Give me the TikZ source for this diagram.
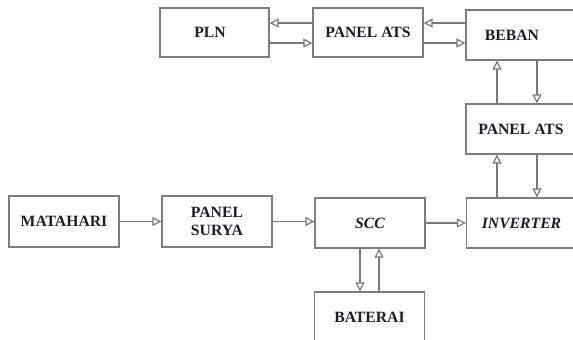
\documentclass[tikz,border=0pt]{standalone}
\usepackage{fontspec}
\setmainfont{Liberation Serif}
\usetikzlibrary{arrows.meta}
\definecolor{boxgray}{RGB}{125,125,125}
\definecolor{linegray}{RGB}{120,120,120}
\definecolor{txt}{RGB}{28,28,45}
\begin{document}
\begin{tikzpicture}[x=1pt,y=-1pt,
  box/.style={draw=boxgray, line width=1.3pt, minimum width=110pt, minimum height=50pt,
    inner sep=0pt, align=center, text=txt, font=\fontsize{15.7}{18}\selectfont\bfseries},
  arr/.style={draw=linegray, line width=1.2pt, -{Triangle[open, length=9pt, width=9pt]}}]
\useasboundingbox[fill=white] (0,0) rectangle (573,340);
\node[box, minimum width=109pt, minimum height=49pt] (pln) at (214.5,32.5) {\hspace*{-9pt}PLN};
\node[box, minimum height=49pt] (ats1) at (368,32.5) {PANEL ATS};
\node[box] (beban) at (521,35) {\hspace*{-18pt}BEBAN};
\node[box] (ats2) at (521,129) {PANEL ATS};
\node[box] (inv) at (521.5,223) {\itshape INVERTER};
\node[box, minimum height=51pt] (mat) at (64,221.5) {MATAHARI};
\node[box, minimum height=51pt] (sur) at (217,221.5) {PANEL\\SURYA};
\node[box] (scc) at (370,223) {\itshape SCC};
\node[box] (bat) at (369.5,317) {BATERAI};
% top row
\draw[arr] ([yshift=9.5pt]ats1.west) -- ([yshift=9.5pt]ats1.west -| pln.east);
\draw[arr] ([yshift=-10.5pt]pln.east) -- ([yshift=-10.5pt]pln.east -| ats1.west);
\draw[arr] ([yshift=9.5pt]ats1.east -| beban.west) -- ([yshift=9.5pt]ats1.east);
\draw[arr] ([yshift=-10.5pt]ats1.east) -- ([yshift=-10.5pt]ats1.east -| beban.west);
% right column
\draw[arr] ([xshift=-24pt]ats2.north) -- ([xshift=-24pt]ats2.north |- beban.south);
\draw[arr] ([xshift=16pt]beban.south) -- ([xshift=16pt]beban.south |- ats2.north);
\draw[arr] ([xshift=-24pt]ats2.south |- inv.north) -- ([xshift=-24pt]ats2.south);
\draw[arr] ([xshift=16pt]ats2.south) -- ([xshift=16pt]ats2.south |- inv.north);
% bottom row
\draw[arr] (mat.east) -- (mat.east -| sur.west);
\draw[arr] (sur.east) -- (sur.east -| scc.west);
\draw[arr] (scc.east) -- (scc.east -| inv.west);
\draw[arr] ([xshift=-10pt]scc.south) -- ([xshift=-10pt]scc.south |- bat.north);
\draw[arr] ([xshift=9pt]scc.south |- bat.north) -- ([xshift=9pt]scc.south);
\end{tikzpicture}
\end{document}
